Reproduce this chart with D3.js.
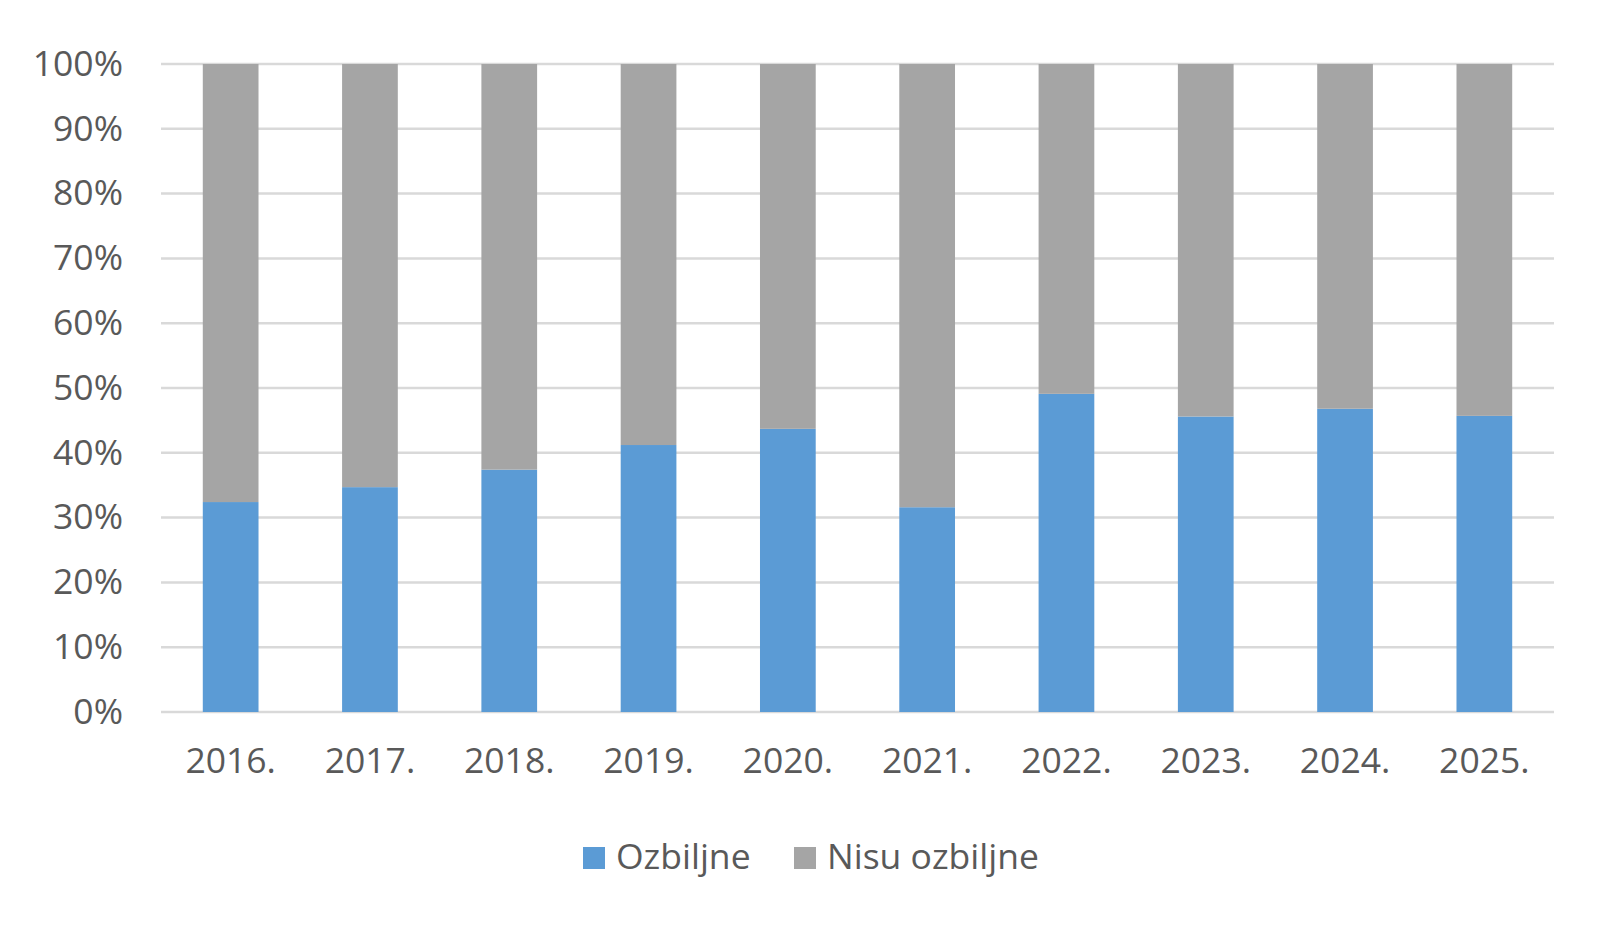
<!DOCTYPE html>
<html>
<head>
<meta charset="utf-8">
<script src="https://cdn.jsdelivr.net/npm/d3@7"></script>
<style>
  body { margin: 0; background: #fff; }
  svg text { font-family: "Open Sans", "Noto Sans", sans-serif; fill: #595959; }
</style>
</head>
<body>
<svg id="chart" width="1606" height="925"></svg>
<script>
const years = ["2016.", "2017.", "2018.", "2019.", "2020.", "2021.", "2022.", "2023.", "2024.", "2025."];
const ozbiljne = [32.4, 34.7, 37.4, 41.2, 43.7, 31.6, 49.1, 45.6, 46.8, 45.7];
const nisuOzbiljne = [67.6, 65.3, 62.6, 58.8, 56.3, 68.4, 50.9, 54.4, 53.2, 54.3];
const seriesNames = ["Ozbiljne", "Nisu ozbiljne"];
const yTicks = [0, 10, 20, 30, 40, 50, 60, 70, 80, 90, 100];

const colors = {"Ozbiljne": "#5b9bd5", "Nisu ozbiljne": "#a5a5a5"};
const margin = {top: 64, right: 52, bottom: 213, left: 161};
const width = 1606, height = 925;
const fontSize = 35.5;

const svg = d3.select("#chart");

const x = d3.scaleBand()
    .domain(years)
    .range([margin.left, width - margin.right])
    .paddingInner(0.6)
    .paddingOuter(0.3);

const y = d3.scaleLinear()
    .domain([0, 100])
    .range([height - margin.bottom, margin.top]);

// gridlines
svg.append("g")
    .selectAll("line")
    .data(yTicks)
    .enter()
    .append("line")
    .attr("x1", margin.left)
    .attr("x2", width - margin.right)
    .attr("y1", d => y(d))
    .attr("y2", d => y(d))
    .attr("stroke", "#d9d9d9")
    .attr("stroke-width", 2.5);

// stacked bars
const rows = years.map((yr, i) => ({year: yr, "Ozbiljne": ozbiljne[i], "Nisu ozbiljne": nisuOzbiljne[i]}));
const stack = d3.stack().keys(seriesNames)(rows);

svg.append("g")
    .selectAll("g")
    .data(stack)
    .enter()
    .append("g")
    .attr("fill", d => colors[d.key])
    .selectAll("rect")
    .data(d => d)
    .enter()
    .append("rect")
    .attr("x", d => x(d.data.year))
    .attr("width", x.bandwidth())
    .attr("y", d => y(d[1]))
    .attr("height", d => y(d[0]) - y(d[1]));

// y axis labels
const yAxis = d3.axisLeft(y)
    .tickValues(yTicks)
    .tickFormat(d => d + "%")
    .tickSize(0)
    .tickPadding(38);

svg.append("g")
    .attr("transform", `translate(${margin.left},0)`)
    .call(yAxis)
    .call(g => g.select(".domain").remove())
    .selectAll("text")
    .attr("font-size", fontSize)
    .attr("font-family", null)
    .style("fill", "#595959");

// x axis labels
const xAxis = d3.axisBottom(x).tickSize(0).tickPadding(36);
svg.append("g")
    .attr("transform", `translate(0,${y(0)})`)
    .call(xAxis)
    .call(g => g.select(".domain").remove())
    .selectAll("text")
    .attr("font-size", fontSize)
    .attr("font-family", null)
    .style("fill", "#595959");

// legend
const legendX = [583, 794];
const legend = svg.append("g");
seriesNames.forEach((name, i) => {
    legend.append("rect")
        .attr("x", legendX[i])
        .attr("y", 847)
        .attr("width", 22)
        .attr("height", 22)
        .attr("fill", colors[name]);
    legend.append("text")
        .attr("x", legendX[i] + 33)
        .attr("y", 869)
        .attr("font-size", fontSize)
        .text(name);
});
</script>
</body>
</html>
